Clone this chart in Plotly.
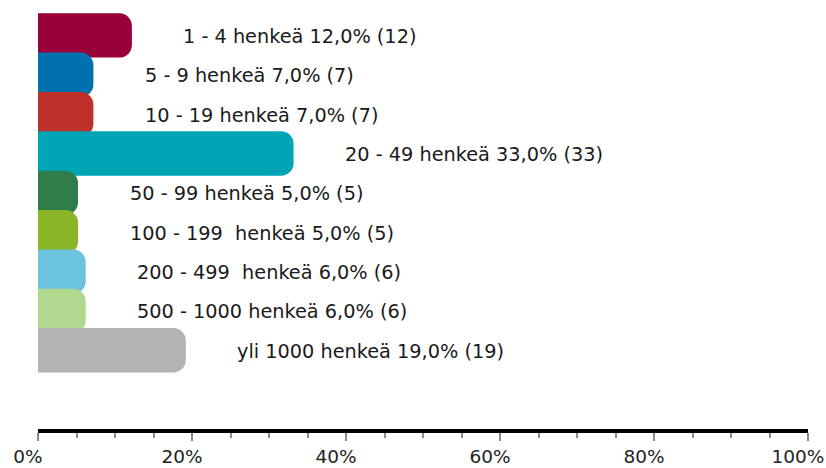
import plotly.graph_objects as go

categories = ["1 - 4 henkeä", "5 - 9 henkeä", "10 - 19 henkeä", "20 - 49 henkeä",
              "50 - 99 henkeä", "100 - 199  henkeä", "200 - 499  henkeä",
              "500 - 1000 henkeä", "yli 1000 henkeä"]
percents = [12.0, 7.0, 7.0, 33.0, 5.0, 5.0, 6.0, 6.0, 19.0]
counts = [12, 7, 7, 33, 5, 5, 6, 6, 19]
colors = ["#99003a", "#0070ae", "#c0302b", "#00a5b5", "#2e7d4a",
          "#8ab526", "#6bc3df", "#b1d88f", "#b3b3b3"]
tick_vals = [0, 20, 40, 60, 80, 100]
tick_text = ["0%", "20%", "40%", "60%", "80%", "100%"]

pos = list(range(len(categories)))

fig = go.Figure()
fig.add_trace(go.Bar(x=percents, y=pos, orientation="h", width=1.05,
                     marker=dict(color=colors, line=dict(width=3, color=colors)),
                     hoverinfo="skip", showlegend=False))

for i, (cat, p, n) in enumerate(zip(categories, percents, counts)):
    label = "%s %s%% (%d)" % (cat.replace("  ", "\u00a0 "), ("%.1f" % p).replace(".", ","), n)
    fig.add_annotation(x=p, y=i, text=label, showarrow=False, xanchor="left",
                       xshift=51, yshift=-1, font=dict(family="DejaVu Sans", size=19.3, color="#1a1a1a"))

fig.update_layout(
    width=826, height=468,
    margin=dict(l=38, r=18, t=0, b=39),
    plot_bgcolor="white", paper_bgcolor="white",
    barcornerradius=11,
    xaxis=dict(range=[0, 100], tickvals=tick_vals, ticktext=tick_text, automargin=False,
               ticklabelshift=-10, ticklabeloverflow="allow",
               showgrid=False, zeroline=False, showline=True, linewidth=4, linecolor="black",
               ticks="outside", ticklen=8, tickwidth=2, tickcolor="#8c8c8c",
               minor=dict(dtick=5, ticks="outside", ticklen=5, tickwidth=2, tickcolor="#8c8c8c"),
               tickfont=dict(family="DejaVu Sans", size=18.5, color="#222222")),
    yaxis=dict(range=[10, -0.9], visible=False, showgrid=False, zeroline=False, automargin=False),
)

# page body has a default 8px margin, drop it so the figure fills the window
fig.write_html("out.html", config={"displayModeBar": False},
               post_script="document.body.style.margin='0';")
